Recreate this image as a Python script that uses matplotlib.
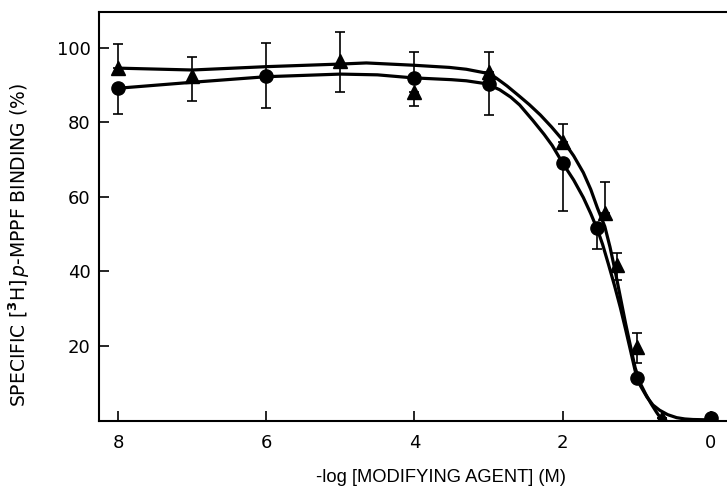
import numpy as np
import matplotlib
matplotlib.use("Agg")
import matplotlib.pyplot as plt

# ---- data ----
# triangle series: x (-log M), value, lower err, upper err
tri_x = [8, 7, 5, 4, 3, 2, 1.43, 1.26, 0.99, 0.66, 0.0]
tri_y = [94.6, 92.5, 96.5, 88.2, 93.6, 74.8, 55.6, 41.7, 19.6, 0.5, 0.5]
tri_lo = [0, 6.7, 8.3, 3.8, 0, 0, 0, 4.1, 4.3, 0, 0]
tri_hi = [6.5, 5.1, 7.8, 0, 5.4, 4.8, 8.4, 3.3, 3.8, 0, 0]

# circle series
cir_x = [8, 6, 4, 3, 2, 1.53, 1.0, 0.0]
cir_y = [89.2, 92.5, 92.0, 90.3, 69.2, 51.6, 11.3, 0.5]
cir_lo = [6.9, 8.7, 0, 8.3, 12.9, 5.6, 0, 0]
cir_hi = [0, 8.8, 7.0, 0, 0, 0, 0, 0]

# fitted curves
tri_cx = [8.0, 7.0, 6.0, 5.0, 4.65, 4.03, 3.53, 3.3, 3.04, 2.9, 2.75, 2.58, 2.45, 2.3,
          2.15, 2.0, 1.85, 1.72, 1.62, 1.53, 1.43, 1.36, 1.29, 1.22, 1.15, 1.08, 1.02,
          0.95, 0.88, 0.8, 0.73, 0.66]
tri_cy = [94.6, 94.1, 95.0, 95.7, 96.0, 95.4, 94.8, 94.3, 93.3, 92.0, 89.8, 87.0, 84.8, 82.0,
          78.8, 75.3, 71.0, 66.5, 62.0, 57.0, 52.0, 46.5, 40.0, 33.0, 26.0, 19.5, 14.0,
          9.8, 7.0, 4.2, 2.0, 0.0]
cir_cx = [8.0, 7.0, 6.0, 5.0, 4.5, 4.03, 3.5, 3.3, 3.03, 2.85, 2.7, 2.58, 2.4, 2.25, 2.14,
          2.0, 1.85, 1.72, 1.62, 1.53, 1.46, 1.38, 1.3, 1.22, 1.15, 1.08, 1.02, 0.95, 0.86,
          0.78, 0.69, 0.58, 0.46, 0.35, 0.24, 0.0]
cir_cy = [89.2, 90.8, 92.3, 93.0, 92.8, 92.0, 91.5, 91.2, 90.4, 88.8, 86.8, 84.7, 80.5, 76.8, 73.8,
          69.1, 64.5, 59.8, 55.5, 51.2, 47.2, 41.8, 36.2, 30.2, 24.4, 18.4, 13.2, 9.2, 6.1,
          4.0, 2.6, 1.4, 0.6, 0.25, 0.1, 0.0]

xticks = [8, 6, 4, 2, 0]
yticks = [20, 40, 60, 80, 100]

plt.rcParams['font.family'] = ['DejaVu Sans']
fig = plt.figure(figsize=(7.27, 5.0), dpi=100)
ax = fig.add_axes([99/727, 79/500, 1 - 99/727, (421-12)/500])

ax.plot(tri_cx, tri_cy, color='black', lw=2.3, zorder=2, solid_joinstyle='round')
ax.plot(cir_cx, cir_cy, color='black', lw=2.3, zorder=2, solid_joinstyle='round')

ax.errorbar(tri_x, tri_y, yerr=[tri_lo, tri_hi], fmt='^', color='black', ms=10.5,
            ecolor='black', elinewidth=1.2, capsize=3.5, capthick=1.2, zorder=3)
ax.errorbar(cir_x, cir_y, yerr=[cir_lo, cir_hi], fmt='o', color='black', ms=9.5,
            ecolor='black', elinewidth=1.2, capsize=3.5, capthick=1.2, zorder=3)

ax.set_xlim(8.26, -0.22)
ax.set_ylim(-0.3, 109.7)
ax.set_xticks(xticks)
ax.set_yticks(yticks)
ax.tick_params(direction='in', length=7, width=1.2, labelsize=13)
ax.tick_params(axis='x', pad=9)
ax.tick_params(axis='y', pad=6)
for s in ['left', 'bottom', 'top']:
    ax.spines[s].set_linewidth(1.5)
ax.spines['right'].set_visible(False)

ax.set_xlabel('-log [MODIFYING AGENT] (M)', fontsize=13.2, family=['Liberation Sans', 'DejaVu Sans'])
ax.xaxis.set_label_coords((441 - 99) / 628, (421 - 469) / 409)
ax.set_ylabel(r'SPECIFIC $[^{\mathbf{3}}$H$]\,p$-MPPF BINDING (%)', fontsize=13.5)
ax.yaxis.set_label_coords((32 - 99) / 628, (421 - 245) / 409)

fig.savefig('out.png', dpi=100)
